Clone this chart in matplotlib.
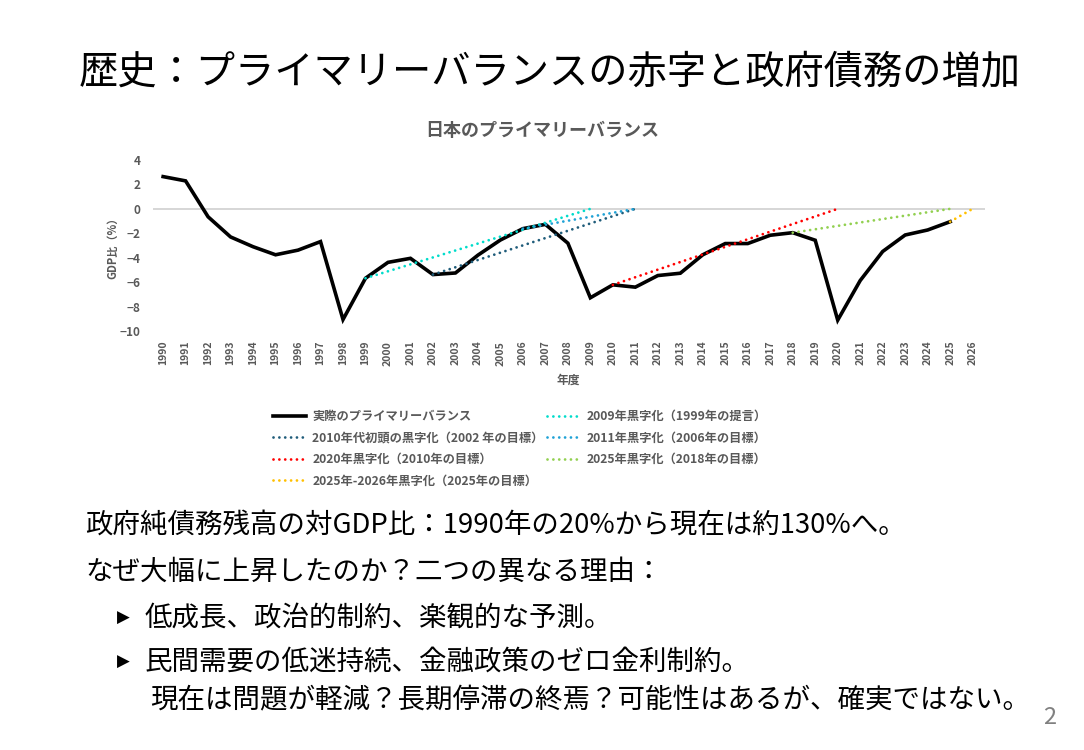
import matplotlib
matplotlib.use("Agg")
import matplotlib.pyplot as plt
from matplotlib.lines import Line2D

plt.rcParams['font.family'] = ['Noto Sans CJK JP', 'DejaVu Sans']

# ---- data ----
years = list(range(1990, 2026))
primary_balance = [2.64, 2.29, -0.65, -2.30, -3.10, -3.76, -3.38, -2.68, -9.06, -5.68,
                   -4.38, -4.05, -5.38, -5.25, -3.79, -2.55, -1.62, -1.27, -2.81, -7.28,
                   -6.22, -6.41, -5.46, -5.27, -3.76, -2.84, -2.84, -2.16, -1.95, -2.57,
                   -9.11, -5.87, -3.49, -2.14, -1.73, -1.05]

target_labels = ["2009年黒字化（1999年の提言）",
                 "2010年代初頭の黒字化（2002 年の目標）",
                 "2011年黒字化（2006年の目標）",
                 "2020年黒字化（2010年の目標）",
                 "2025年黒字化（2018年の目標）",
                 "2025年-2026年黒字化（2025年の目標）"]
target_start_year = [1999, 2002, 2006, 2010, 2018, 2025]
target_start_value = [-5.68, -5.38, -1.62, -6.22, -1.95, -1.05]
target_end_year = [2009, 2011, 2011, 2020, 2025, 2026]
target_end_value = [0, 0, 0, 0, 0, 0]
target_colors = ["#00DCCB", "#1F5C7A", "#1FA2D6", "#FF0000", "#92D050", "#FFC000"]

x_ticks = list(range(1990, 2027))
y_ticks = [4, 2, 0, -2, -4, -6, -8, -10]

gray = "#595959"

fig = plt.figure(figsize=(10.84, 7.5), dpi=100)

# ---- slide title ----
fig.text(550/1084, 1-72/750, "歴史：プライマリーバランスの赤字と政府債務の増加",
         ha='center', va='center', fontsize=28.3, color='black')

# ---- chart ----
ax = fig.add_axes([153/1084, 1-331/750, (985-153)/1084, (331-160)/750])
ax.set_xlim(1989.55, 2026.55)
ax.set_ylim(-10, 4)
ax.axhline(0, color='#D0D0D0', lw=1.2, zorder=1)

dot_style = (0, (0.01, 2.1))
handles = {}
for lab, sy, sv, ey, ev, c in zip(target_labels, target_start_year, target_start_value,
                                  target_end_year, target_end_value, target_colors):
    ln, = ax.plot([sy, ey], [sv, ev], color=c, lw=2.0, linestyle=dot_style,
                  dash_capstyle='round', zorder=3, label=lab)
    handles[lab] = ln

actual, = ax.plot(years, primary_balance, color='black', lw=2.6, zorder=2,
                  solid_joinstyle='miter', label="実際のプライマリーバランス")

for s in ax.spines.values():
    s.set_visible(False)
ax.set_xticks(x_ticks)
ax.set_xticklabels([str(y) for y in x_ticks], rotation=90, fontsize=7.5,
                   color=gray, fontweight='bold')
ax.set_yticks(y_ticks)
ax.set_yticklabels([str(v).replace('-', '−') for v in y_ticks], fontsize=8.5,
                   color=gray, fontweight='bold')
ax.tick_params(axis='both', length=0, pad=9)
ax.tick_params(axis='x', pad=7)

fig.text(542/1084, 1-130/750, "日本のプライマリーバランス", ha='center', va='center',
         fontsize=13, color=gray, fontweight='bold')
fig.text(113/1084, 1-245/750, "GDP比（%）", ha='center', va='center', rotation=90,
         fontsize=8, color=gray, fontweight='bold')
fig.text(568/1084, 1-380/750, "年度", ha='center', va='center',
         fontsize=8.5, color=gray, fontweight='bold')

# ---- legend ----
order = [actual, handles[target_labels[1]], handles[target_labels[3]], handles[target_labels[5]],
         handles[target_labels[0]], handles[target_labels[2]], handles[target_labels[4]]]
leg = fig.legend(handles=order, labels=[h.get_label() for h in order],
                 loc='upper left', bbox_to_anchor=(262/1084, 1-399/750), ncol=2,
                 frameon=False, prop={'size': 8.8, 'weight': 'bold'},
                 handlelength=2.7, handletextpad=0.5, columnspacing=0.3,
                 labelspacing=0.7, labelcolor=gray)

# ---- body text ----
body_fs = 19.8
fig.text(85/1084, 1-525/750, "政府純債務残高の対GDP比：1990年の20%から現在は約130%へ。",
         ha='left', va='center', fontsize=body_fs, color='black')
fig.text(85/1084, 1-572/750, "なぜ大幅に上昇したのか？二つの異なる理由：",
         ha='left', va='center', fontsize=body_fs, color='black')
fig.text(123/1084, 1-618/750, "▶", ha='center', va='center', fontsize=12,
         color='black', family=['DejaVu Sans'])
fig.text(145/1084, 1-618/750, "低成長、政治的制約、楽観的な予測。",
         ha='left', va='center', fontsize=body_fs, color='black')
fig.text(123/1084, 1-662/750, "▶", ha='center', va='center', fontsize=12,
         color='black', family=['DejaVu Sans'])
fig.text(145/1084, 1-662/750, "民間需要の低迷持続、金融政策のゼロ金利制約。",
         ha='left', va='center', fontsize=body_fs, color='black')
fig.text(150/1084, 1-701/750, "現在は問題が軽減？長期停滞の終焉？可能性はあるが、確実ではない。",
         ha='left', va='center', fontsize=body_fs, color='black')
fig.text(1050/1084, 1-718/750, "2", ha='center', va='center', fontsize=17,
         color='#808080')

fig.savefig("out.png", dpi=100)
